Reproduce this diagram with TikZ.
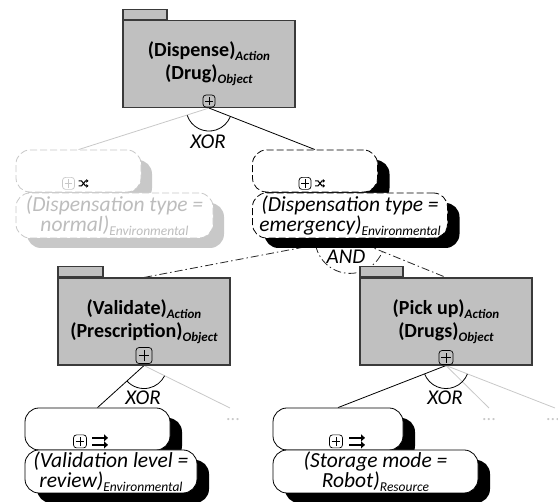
\documentclass[tikz,border=0pt]{standalone}
\usepackage{fontspec}
\setmainfont{Carlito}
\usetikzlibrary{shadows,arrows.meta}

\definecolor{pkgfill}{HTML}{C0C0C0}
\definecolor{pkgline}{HTML}{3A3A3A}
\definecolor{faded}{HTML}{C8C8C8}
\definecolor{fadedtext}{HTML}{BDBDBD}

\pgfdeclarelayer{background}
\pgfsetlayers{background,main}

% subscripts for package labels and for context labels
\newcommand{\pkgsub}[1]{\raisebox{-4pt}{\fontsize{13}{13}\selectfont\bfseries\itshape #1}}
\newcommand{\envsub}[1]{\raisebox{-4pt}{\fontsize{13.5}{13.5}\selectfont\itshape #1}}

\begin{document}
\begin{tikzpicture}[x=1pt,y=-1pt,
  pkgbox/.style={draw=pkgline, fill=pkgfill, line width=1.1pt,
    minimum width=172pt, minimum height=87pt, inner sep=0pt, align=center,
    font=\fontsize{20}{23}\selectfont\bfseries},
  pkgtab/.style={draw=pkgline, fill=pkgfill, line width=1.1pt,
    minimum width=44pt, minimum height=10pt, inner sep=0pt, anchor=south west},
  plusbox/.style={draw, rounded corners=3pt, minimum width=#1, minimum height=#1,
    inner sep=0pt, line width=0.7pt,
    path picture={\draw[line width=0.7pt]
      ([xshift=-0.33*#1]path picture bounding box.center) -- ([xshift=0.33*#1]path picture bounding box.center)
      ([yshift=-0.36*#1]path picture bounding box.center) -- ([yshift=0.36*#1]path picture bounding box.center);}},
  plusbox/.default=12pt,
  ctxbox/.style={fill=white, rounded corners=14pt, inner sep=0pt, align=center,
    font=\fontsize{21.5}{20.5}\selectfont\itshape},
  blackshadow/.style={drop shadow={shadow xshift=12pt, shadow yshift=-10pt, fill=black, opacity=1}},
  greyshadow/.style={drop shadow={shadow xshift=11pt, shadow yshift=-10pt, fill=faded, opacity=1}},
  dashedblack/.style={ctxbox, draw=black, line width=0.8pt, dash pattern=on 7pt off 3pt, blackshadow},
  dashedgrey/.style={ctxbox, draw=faded, line width=0.8pt, dash pattern=on 7pt off 3pt, greyshadow, text=fadedtext},
  solidblack/.style={ctxbox, draw=black, line width=0.8pt, blackshadow},
  conn/.style={draw=black, line width=0.8pt},
  fadedconn/.style={draw=faded, line width=0.8pt},
  dashdotconn/.style={draw=black!85, line width=0.8pt, dash pattern=on 8pt off 3pt on 1.5pt off 3pt},
  oplabel/.style={font=\fontsize{21}{21}\selectfont\itshape, inner sep=0pt},
  moredots/.style={text=faded, font=\fontsize{18}{18}\selectfont, inner sep=0pt},
  arrowpair/.pic={
    \draw[line width=2.4pt, -{Triangle[length=4pt,width=7pt]}] (-8pt,3.5pt) -- (8pt,3.5pt);
    \draw[line width=2.4pt, -{Triangle[length=4pt,width=7pt]}] (-8pt,-3.5pt) -- (8pt,-3.5pt);
  },
  shuffle/.pic={
    \draw[line width=1.1pt, -{Triangle[length=2.2pt,width=3.6pt]}] (-5pt,2.5pt) -- (-2pt,2.5pt) -- (2pt,-2.5pt) -- (5pt,-2.5pt);
    \draw[line width=1.1pt, -{Triangle[length=2.2pt,width=3.6pt]}] (-5pt,-2.5pt) -- (-2pt,-2.5pt) -- (2pt,2.5pt) -- (5pt,2.5pt);
  }
]
\useasboundingbox (0,0) rectangle (558,502);

% ---- root package ----
\node[pkgbox] (dispense) at (209,64) {(Dispense)\pkgsub{Action}\\(Drug)\pkgsub{Object}};
\node[pkgtab] (dispenseTab) at (dispense.north west) {};
\node[plusbox] (dispensePlus) at ([yshift=7pt]dispense.south) {};

% ---- faded alternative: normal dispensation ----
\node[dashedgrey, minimum width=125pt, minimum height=42pt] (normalUp) at (78.5,171) {};
\node[dashedgrey, minimum width=197pt, minimum height=45pt] (normalLow) at (114.5,215.5)
  {(Dispensation type =\\normal)\envsub{Environmental}};
\node[plusbox, draw=faded] (normalPlus) at ([xshift=-10pt,yshift=9pt]normalUp.south) {};
\pic at ([xshift=5pt,yshift=9pt]normalUp.south) {shuffle};

% ---- emergency dispensation ----
\node[dashedblack, minimum width=125pt, minimum height=42pt] (emergUp) at (315,171) {};
\node[dashedblack, minimum width=195pt, minimum height=45pt] (emergLow) at (350,215.5)
  {(Dispensation type =\\emergency)\envsub{Environmental}};
\node[plusbox] (emergPlus) at ([xshift=-10pt,yshift=9pt]emergUp.south) {};
\pic at ([xshift=5pt,yshift=9pt]emergUp.south) {shuffle};

% ---- sub-packages ----
\node[pkgbox] (validate) at (144,321.5) {(Validate)\pkgsub{Action}\\(Prescription)\pkgsub{Object}};
\node[pkgtab, minimum width=45pt] (validateTab) at (validate.north west) {};
\node[plusbox=16pt] (validatePlus) at ([yshift=10pt]validate.south) {};

\node[pkgbox] (pickup) at (446,321.5) {(Pick up)\pkgsub{Action}\\(Drugs)\pkgsub{Object}};
\node[pkgtab, minimum width=43pt] (pickupTab) at (pickup.north west) {};
\node[plusbox=14pt] (pickupPlus) at ([yshift=8pt]pickup.south) {};

% ---- leaf contexts ----
\node[solidblack, minimum width=145pt, minimum height=42pt] (validUp) at (97.5,429) {};
\node[solidblack, minimum width=172pt, minimum height=43pt] (validLow) at (111,471.5)
  {(Validation level =\\review)\envsub{Environmental}};
\node[plusbox=13pt] (validLeafPlus) at ([xshift=-17.5pt,yshift=9pt]validUp.south) {};
\pic at ([xshift=2.5pt,yshift=9pt]validUp.south) {arrowpair};

\node[solidblack, minimum width=130pt, minimum height=42pt] (storeUp) at (338,429) {};
\node[solidblack, minimum width=205pt, minimum height=43pt] (storeLow) at (375.5,471.5)
  {(Storage mode =\\Robot)\envsub{Resource}};
\node[plusbox=13pt] (storeLeafPlus) at ([xshift=-2pt,yshift=9pt]storeUp.south) {};
\pic at ([xshift=19pt,yshift=9pt]storeUp.south) {arrowpair};

% ---- open ends and labels ----
\coordinate (validMore) at (230,408);
\coordinate (pickMoreA) at (489,408);
\coordinate (pickMoreB) at (555,408);
\node[moredots] (validDots) at (233,420) {...};
\node[moredots] (pickDotsA) at (489,420) {...};
\node[moredots] (pickDotsB) at (553,420) {...};

\node[oplabel] (xorTop) at (208,142) {XOR};
\node[oplabel] (andMid) at (346,257) {AND};
\node[oplabel] (xorValid) at (143,398) {XOR};
\node[oplabel] (xorPick) at (445,398) {XOR};

% ---- connectors, behind the boxes ----
\begin{pgfonlayer}{background}
  \draw[fadedconn] (dispense.south) -- (normalUp.north);
  \draw[conn] (dispense.south) -- (emergUp.north);
  \draw[conn] ([shift={(198.6:23pt)}]dispense.south) arc[start angle=198.6, end angle=338.5, radius=23pt];

  \draw[dashdotconn] (emergLow.south) -- (validate.north);
  \draw[dashdotconn] (emergLow.south) -- (pickup.north);
  \draw[dashdotconn] ([shift={(191.3:35pt)}]emergLow.south) arc[start angle=191.3, end angle=336.9, radius=35pt];

  \draw[conn] (validate.south) -- (validUp.north);
  \draw[fadedconn] (validate.south) -- (validMore);
  \draw[conn] ([shift={(222.8:23pt)}]validate.south) arc[start angle=222.8, end angle=333.4, radius=23pt];

  \draw[conn] (pickup.south) -- (storeUp.north);
  \draw[fadedconn] (pickup.south) -- (pickMoreA);
  \draw[fadedconn] (pickup.south) -- (pickMoreB);
  \draw[conn] ([shift={(201.7:23pt)}]pickup.south) arc[start angle=201.7, end angle=338.5, radius=23pt];
\end{pgfonlayer}
\end{tikzpicture}
\end{document}
